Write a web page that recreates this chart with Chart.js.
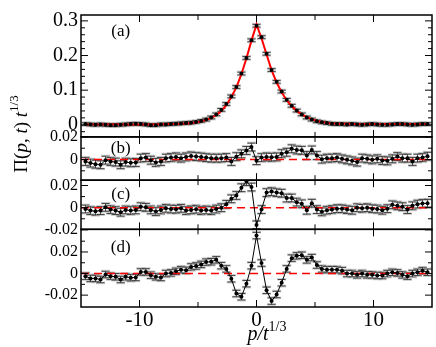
<!DOCTYPE html>
<html>
<head>
<meta charset="utf-8">
<script src="https://cdn.jsdelivr.net/npm/chart.js@4.4.1/dist/chart.umd.min.js"></script>
<style>
  html, body { margin: 0; padding: 0; background: #fff; }
</style>
</head>
<body>
<canvas id="c" width="436" height="347"></canvas>
<script>
// positions p/t^(1/3) shared by every panel
const xs = [
  -14.62, -14.19, -13.76, -13.33, -12.90, -12.47, -12.04, -11.61, -11.18, -10.75,
  -10.32, -9.89, -9.46, -9.03, -8.60, -8.17, -7.74, -7.31, -6.88, -6.45,
  -6.02, -5.59, -5.16, -4.73, -4.30, -3.87, -3.44, -3.01, -2.58, -2.15,
  -1.72, -1.29, -0.86, -0.43, 0,
  0.43, 0.86, 1.29, 1.72, 2.15, 2.58, 3.01, 3.44, 3.87, 4.30,
  4.73, 5.16, 5.59, 6.02, 6.45, 6.88, 7.31, 7.74, 8.17, 8.60,
  9.03, 9.46, 9.89, 10.32, 10.75, 11.18, 11.61, 12.04, 12.47, 12.90,
  13.33, 13.76, 14.19, 14.62
];

// panel (a): measured points and the red curve
const valsA = [
  0.002, 0.001, 0.0, 0.001, 0.0, -0.001, -0.001, 0.0, 0.001, 0.002,
  0.003, 0.002, 0.001, -0.001, -0.001, 0.001, 0.001, 0.002, 0.003,
  0.004, 0.005, 0.006, 0.008, 0.011, 0.015, 0.021, 0.030,
  0.043, 0.060, 0.082, 0.109, 0.148, 0.193, 0.244,
  0.286,
  0.253, 0.205, 0.158, 0.124, 0.096, 0.072, 0.055, 0.041, 0.030, 0.021,
  0.015, 0.010, 0.007, 0.005, 0.003, 0.002, 0.002, 0.001, 0.002, 0.001,
  0.0, 0.001, 0.002, 0.001, 0.0, 0.0, 0.001, 0.002, 0.002, 0.001,
  0.0, 0.001, 0.002, 0.002
];
const fitA = [
  0.001, 0.001, 0.001, 0.001, 0.001, 0.001, 0.001, 0.001, 0.001, 0.001,
  0.001, 0.001, 0.001, 0.001, 0.001, 0.001, 0.002, 0.002, 0.002,
  0.003, 0.004, 0.005, 0.007, 0.010, 0.014, 0.020, 0.028,
  0.040, 0.057, 0.080, 0.108, 0.146, 0.192, 0.243,
  0.290,
  0.250, 0.203, 0.158, 0.122, 0.094, 0.071, 0.054, 0.040, 0.030, 0.022,
  0.016, 0.011, 0.008, 0.005, 0.004, 0.003, 0.003, 0.003, 0.002, 0.002,
  0.002, 0.002, 0.002, 0.002, 0.002, 0.002, 0.002, 0.002, 0.002, 0.002,
  0.002, 0.002, 0.002, 0.002
];
const valsB = [
  -0.0017, -0.0032, -0.0041, -0.0046, -0.0006, -0.0017, -0.0023, -0.0046, -0.0023, -0.0029,
  -0.0026, 0.0012, 0.0017, -0.0006, -0.0026, -0.0017, 0.0012, 0.0017, 0.0023, 0.0012,
  0.0023, 0.0032, 0.0026, 0.0023, 0.0017, 0.0012, 0.0012, 0.0012, 0.0017, -0.0017,
  0.0025, 0.005, 0.008, 0.011,
  -0.001,
  0.0017, 0.0023, 0.002, 0.0023, 0.0052, 0.0064, 0.0095, 0.0084, 0.0081, 0.0035,
  0.0084, 0.0035, 0.0003, 0.0012, 0.0012, 0.0017, 0.0006, -0.0003, -0.0012, -0.0023,
  0.0012, 0.0006, -0.0003, 0.0006, -0.0009, -0.0012, 0.0006, 0.0026, 0.0012, 0.0012,
  -0.0017, 0.0012, 0.0017, 0.0029
];
const valsC = [
  -0.0012, -0.0026, -0.0032, -0.0026, 0.0003, -0.0017, -0.0026, -0.0041, -0.002, -0.0026,
  -0.002, 0.0009, 0.0003, -0.002, -0.0035, -0.002, -0.0006, -0.0012, -0.0014, -0.0006,
  -0.0026, -0.002, -0.0014, -0.0026, -0.002, -0.0026, -0.0012,
  0.0, 0.003, 0.008, 0.011, 0.018, 0.0235, 0.0186,
  -0.0155,
  -0.0017, 0.0136, 0.0145, 0.0136, 0.013, 0.0087, 0.0087, 0.005, 0.0035, -0.0023,
  0.004, -0.0017, -0.0037, -0.0023, -0.0017, -0.0009, -0.0009, -0.0017, -0.0023, 0.0,
  -0.0006, 0.0, -0.0009, -0.0012, -0.0023, -0.0009, 0.0026, 0.0017, 0.0009, -0.0017,
  0.0017, 0.0032, 0.0038, 0.004
];
const valsD = [
  -0.0024, -0.0045, -0.0045, -0.0055, -0.0009, -0.0024, -0.003, -0.0055, -0.003, -0.0039,
  -0.0036, 0.0015, 0.0015, -0.0015, -0.003, -0.0036, 0.0, 0.0006, 0.0021, 0.0036,
  0.003, 0.0061, 0.007, 0.0085, 0.0106, 0.011, 0.0127,
  0.0073, 0.0043, -0.0048, -0.0185, -0.0215, -0.0094, 0.0073,
  0.0352,
  0.0097, -0.0155, -0.0255, -0.0194, -0.0085, 0.0043, 0.0143, 0.0164, 0.017, 0.0127,
  0.0148, 0.0079, 0.0043, 0.0036, 0.0036, 0.0036, 0.0027, 0.0, 0.0, -0.0012,
  0.0, -0.0012, -0.0012, -0.0018, -0.0018, 0.0, 0.0012, 0.0006, -0.0012, -0.0024,
  0.0, 0.0012, 0.0027, 0.0012
];

// error bar half heights
const errA = 0.004, errB = 0.0035, errC = 0.0035, errD = 0.003;

// ticks
const xMajor = [-10, 0, 10];
const xMinor = [-5, 5];
const ticksA = [0, 0.1, 0.2, 0.3];
const minorA = [-0.02, 0.02, 0.04, 0.06, 0.08, 0.12, 0.14, 0.16, 0.18, 0.22, 0.24, 0.26, 0.28];
const ticksB = [0, 0.02];
const minorB = [-0.01, 0.01];
const ticksC = [-0.02, 0, 0.02];
const minorC = [-0.01, 0.01];
const ticksD = [-0.02, 0, 0.02];
const minorD = [-0.01, 0.01, 0.03];

const serif = '"Liberation Serif", "Times New Roman", serif';

const pts = vals => xs.map((x, i) => ({ x: x, y: vals[i] }));
const zeroLine = [{ x: -15, y: 0 }, { x: 15, y: 0 }];

const panels = [
  { id: "ya", label: "(a)", labelAt: [-11.6, 0.27], vals: valsA, err: errA, major: ticksA, minor: minorA },
  { id: "yb", label: "(b)", labelAt: [-11.6, 0.01], vals: valsB, err: errB, major: ticksB, minor: minorB },
  { id: "yc", label: "(c)", labelAt: [-11.6, 0.012], vals: valsC, err: errC, major: ticksC, minor: minorC },
  { id: "yd", label: "(d)", labelAt: [-11.6, 0.024], vals: valsD, err: errD, major: ticksD, minor: minorD }
];

function pointSet(vals, axis, line) {
  return {
    data: pts(vals), yAxisID: axis, showLine: line,
    borderColor: "#000", backgroundColor: "#000", borderWidth: 1,
    pointRadius: 2, pointBorderWidth: 0, tension: 0
  };
}
function redSet(data, axis, dash) {
  return {
    data: data, yAxisID: axis, showLine: true,
    borderColor: "#ff0000", borderWidth: dash ? 1.5 : 2, borderDash: dash ? [8, 5] : [],
    pointRadius: 0, tension: 0
  };
}

function yScale(min, max, weight, h, ticks, size) {
  return {
    type: "linear", position: "left", stack: "panels", stackWeight: h, weight: weight,
    min: min, max: max,
    grid: { display: false, drawTicks: false },
    border: { display: false },
    ticks: { color: "#000", font: { family: serif, size: size }, padding: 3, autoSkip: false,
      callback: v => String(v) },
    afterBuildTicks: s => { s.ticks = ticks.map(v => ({ value: v })); },
    afterFit: s => { s.width = 81; }
  };
}

function line(c, x1, y1, x2, y2) {
  c.beginPath(); c.moveTo(x1, y1); c.lineTo(x2, y2); c.stroke();
}

function drawRich(c, parts, x, y) {
  parts.forEach(p => {
    c.font = p[1];
    c.fillText(p[0], x, y + p[2]);
    x += c.measureText(p[0]).width;
  });
}
function richWidth(c, parts) {
  let w = 0;
  parts.forEach(p => { c.font = p[1]; w += c.measureText(p[0]).width; });
  return w;
}
function titleParts(size) {
  const up = size + "px " + serif, it = "italic " + size + "px " + serif;
  const sup = Math.round(size * 0.7) + "px " + serif;
  return [["Π(", up, 0], ["p", it, 0], [", ", up, 0], ["t", it, 0], [") ", up, 0], ["t", it, 0],
    ["1/3", sup, -Math.round(size * 0.45)]];
}

const decor = {
  id: "decor",
  beforeDatasetsDraw(chart) {
    const c = chart.ctx, area = chart.chartArea, sx = chart.scales.x;
    panels.forEach(p => {
      const s = chart.scales[p.id];
      c.save();
      c.beginPath();
      c.rect(area.left, s.top, area.right - area.left, s.bottom - s.top);
      c.clip();
      xs.forEach((xv, i) => {
        const px = sx.getPixelForValue(xv);
        const lo = s.getPixelForValue(p.vals[i] - p.err);
        const hi = s.getPixelForValue(p.vals[i] + p.err);
        c.fillStyle = "rgba(170,170,170,0.6)";
        c.fillRect(px - 4.5, lo - 1, 9, 2.5);
        c.fillRect(px - 4.5, hi - 1.5, 9, 2.5);
        c.strokeStyle = "#222";
        c.lineWidth = 0.8;
        line(c, px, lo, px, hi);
        line(c, px - 4, lo, px + 4, lo);
        line(c, px - 4, hi, px + 4, hi);
      });
      c.restore();
    });
  },
  afterDraw(chart) {
    const c = chart.ctx, area = chart.chartArea, sx = chart.scales.x;
    c.save();
    c.strokeStyle = "#000";
    c.fillStyle = "#000";
    panels.forEach(p => {
      const s = chart.scales[p.id];
      c.lineWidth = 1;
      p.major.forEach(v => {
        const y = s.getPixelForValue(v);
        line(c, area.left, y, area.left + 7, y);
        line(c, area.right, y, area.right - 7, y);
      });
      p.minor.forEach(v => {
        const y = s.getPixelForValue(v);
        line(c, area.left, y, area.left + 4, y);
        line(c, area.right, y, area.right - 4, y);
      });
      xMajor.forEach(v => {
        const x = sx.getPixelForValue(v);
        line(c, x, s.top, x, s.top + 7);
        line(c, x, s.bottom, x, s.bottom - 7);
      });
      xMinor.forEach(v => {
        const x = sx.getPixelForValue(v);
        line(c, x, s.top, x, s.top + 5);
        line(c, x, s.bottom, x, s.bottom - 5);
      });
      c.lineWidth = 1.5;
      c.strokeRect(area.left, s.top, area.right - area.left, s.bottom - s.top);
      c.font = "17px " + serif;
      c.textAlign = "center";
      c.textBaseline = "middle";
      c.fillText(p.label, sx.getPixelForValue(p.labelAt[0]), s.getPixelForValue(p.labelAt[1]));
    });

    c.textAlign = "left";
    c.textBaseline = "alphabetic";
    // x title  p/t^(1/3)
    const xt = [["p/t", "italic 20px " + serif, 0], ["1/3", "14px " + serif, -9]];
    drawRich(c, xt, 267 - richWidth(c, xt) / 2, 340);
    // y title  Π(p, t) t^(1/3), sized to span about 92 px like the original
    let size = 19;
    let yt = titleParts(size);
    while (richWidth(c, yt) > 92 && size > 12) { size -= 0.5; yt = titleParts(size); }
    const w = richWidth(c, yt);
    c.translate(27, 134 + w / 2);
    c.rotate(-Math.PI / 2);
    drawRich(c, yt, 0, 0);
    c.restore();
  }
};

new Chart(document.getElementById("c"), {
  type: "scatter",
  data: {
    datasets: [
      pointSet(valsA, "ya", false),
      pointSet(valsB, "yb", true),
      pointSet(valsC, "yc", true),
      pointSet(valsD, "yd", true),
      redSet(pts(fitA), "ya", false),
      redSet(zeroLine, "yb", true),
      redSet(zeroLine, "yc", true),
      redSet(zeroLine, "yd", true)
    ]
  },
  options: {
    responsive: false,
    animation: false,
    devicePixelRatio: 1,
    layout: { padding: { top: 10, right: 3, left: 0, bottom: 0 } },
    plugins: { legend: { display: false }, tooltip: { enabled: false } },
    scales: {
      x: {
        type: "linear", position: "bottom", min: -15, max: 15,
        grid: { display: false, drawTicks: false },
        border: { display: false },
        ticks: { color: "#000", font: { family: serif, size: 21 }, padding: 1, autoSkip: false,
          maxRotation: 0 },
        afterBuildTicks: s => { s.ticks = xMajor.map(v => ({ value: v })); },
        afterFit: s => { s.height = 40; }
      },
      ya: yScale(-0.035, 0.317, 4, 124, ticksA, 20),
      yb: yScale(-0.0183, 0.02, 3, 44, ticksB, 16),
      yc: yScale(-0.0195, 0.0248, 2, 50, ticksC, 16),
      yd: yScale(-0.031, 0.041, 1, 79, ticksD, 16)
    }
  },
  plugins: [decor]
});
</script>
</body>
</html>
